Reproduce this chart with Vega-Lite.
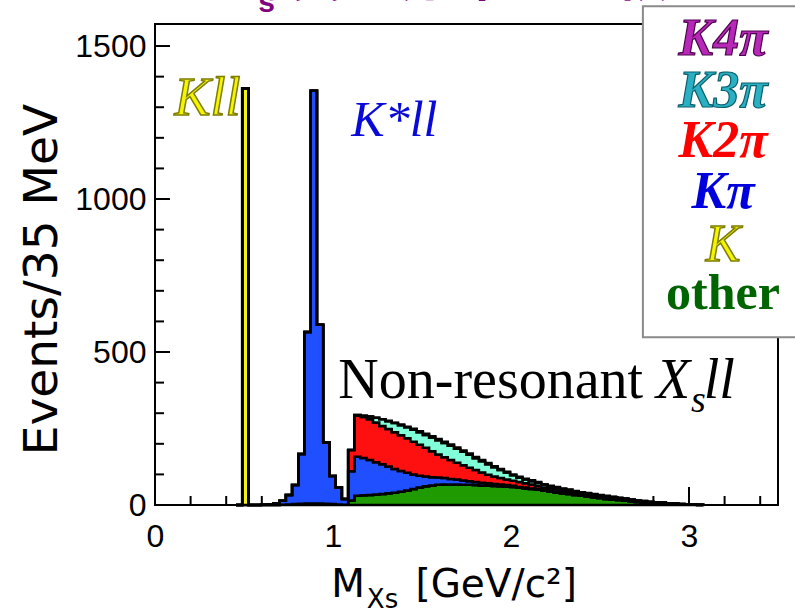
{
  "$schema": "https://vega.github.io/schema/vega-lite/v6.json",
  "width": 623,
  "height": 481,
  "autosize": {"type": "none"},
  "padding": {"left": 155, "top": 24, "right": 17, "bottom": 108},
  "background": "white",
  "config": {
    "view": {"stroke": "black", "strokeWidth": 2},
    "axis": {"grid": false, "domain": false, "ticks": false, "tickSize": 0, "labelFont": "Liberation Sans", "labelFontSize": 32, "labelColor": "black", "titleFont": "DejaVu Sans", "titleFontWeight": "normal", "titleColor": "black"}
  },
  "datasets": {
    "ranks": [
      {"comp": "other", "rank": 1},
      {"comp": "K", "rank": 2},
      {"comp": "Kpi", "rank": 3},
      {"comp": "K2pi", "rank": 4},
      {"comp": "K3pi", "rank": 5},
      {"comp": "K4pi", "rank": 6}
    ],
    "xmajor": [{"v": 0}, {"v": 1}, {"v": 2}, {"v": 3}],
    "xminor": [{"v": 0.2}, {"v": 0.4}, {"v": 0.6}, {"v": 0.8}, {"v": 1.2}, {"v": 1.4}, {"v": 1.6}, {"v": 1.8}, {"v": 2.2}, {"v": 2.4}, {"v": 2.6}, {"v": 2.8}, {"v": 3.2}, {"v": 3.4}],
    "ymajor": [{"v": 500}, {"v": 1000}, {"v": 1500}],
    "yminor": [{"v": 100}, {"v": 200}, {"v": 300}, {"v": 400}, {"v": 600}, {"v": 700}, {"v": 800}, {"v": 900}, {"v": 1100}, {"v": 1200}, {"v": 1300}, {"v": 1400}],
    "hist": [
      {"m": 0.455, "other": 0, "K": 0, "Kpi": 0, "K2pi": 0, "K3pi": 0, "K4pi": 0},
      {"m": 0.49, "other": 0, "K": 1362, "Kpi": 0, "K2pi": 0, "K3pi": 0, "K4pi": 0},
      {"m": 0.525, "other": 0, "K": 0, "Kpi": 0, "K2pi": 0, "K3pi": 0, "K4pi": 0},
      {"m": 0.56, "other": 0, "K": 0, "Kpi": 0, "K2pi": 0, "K3pi": 0, "K4pi": 0},
      {"m": 0.595, "other": 0, "K": 0, "Kpi": 1, "K2pi": 0, "K3pi": 0, "K4pi": 0},
      {"m": 0.63, "other": 0, "K": 0, "Kpi": 2, "K2pi": 0, "K3pi": 0, "K4pi": 0},
      {"m": 0.665, "other": 0, "K": 0, "Kpi": 5, "K2pi": 0, "K3pi": 0, "K4pi": 0},
      {"m": 0.7, "other": 1, "K": 0, "Kpi": 13, "K2pi": 0, "K3pi": 0, "K4pi": 0},
      {"m": 0.735, "other": 2, "K": 0, "Kpi": 31, "K2pi": 0, "K3pi": 0, "K4pi": 0},
      {"m": 0.77, "other": 3, "K": 0, "Kpi": 62, "K2pi": 0, "K3pi": 0, "K4pi": 0},
      {"m": 0.805, "other": 4, "K": 0, "Kpi": 163, "K2pi": 0, "K3pi": 0, "K4pi": 0},
      {"m": 0.84, "other": 5, "K": 0, "Kpi": 560, "K2pi": 0, "K3pi": 0, "K4pi": 0},
      {"m": 0.875, "other": 5, "K": 0, "Kpi": 1349, "K2pi": 0, "K3pi": 0, "K4pi": 0},
      {"m": 0.91, "other": 5, "K": 0, "Kpi": 584, "K2pi": 0, "K3pi": 0, "K4pi": 0},
      {"m": 0.945, "other": 4, "K": 0, "Kpi": 200, "K2pi": 0, "K3pi": 0, "K4pi": 0},
      {"m": 0.98, "other": 3, "K": 0, "Kpi": 92, "K2pi": 0, "K3pi": 0, "K4pi": 0},
      {"m": 1.015, "other": 2, "K": 0, "Kpi": 55, "K2pi": 0, "K3pi": 0, "K4pi": 0},
      {"m": 1.05, "other": 1, "K": 0, "Kpi": 19, "K2pi": 0, "K3pi": 0, "K4pi": 0},
      {"m": 1.085, "other": 15, "K": 0, "Kpi": 95, "K2pi": 70, "K3pi": 0, "K4pi": 0},
      {"m": 1.12, "other": 30, "K": 0, "Kpi": 128, "K2pi": 134, "K3pi": 2, "K4pi": 0},
      {"m": 1.155, "other": 32, "K": 0, "Kpi": 122, "K2pi": 134, "K3pi": 4, "K4pi": 0},
      {"m": 1.19, "other": 33, "K": 0, "Kpi": 114, "K2pi": 133, "K3pi": 9, "K4pi": 0},
      {"m": 1.225, "other": 34, "K": 0, "Kpi": 106, "K2pi": 130, "K3pi": 15, "K4pi": 0},
      {"m": 1.26, "other": 36, "K": 0, "Kpi": 97, "K2pi": 125, "K3pi": 22, "K4pi": 0},
      {"m": 1.295, "other": 38, "K": 0, "Kpi": 88, "K2pi": 122, "K3pi": 26, "K4pi": 1},
      {"m": 1.33, "other": 40, "K": 0, "Kpi": 78, "K2pi": 120, "K3pi": 30, "K4pi": 1},
      {"m": 1.365, "other": 43, "K": 0, "Kpi": 68, "K2pi": 117, "K3pi": 33, "K4pi": 2},
      {"m": 1.4, "other": 47, "K": 0, "Kpi": 58, "K2pi": 113, "K3pi": 36, "K4pi": 2},
      {"m": 1.435, "other": 52, "K": 0, "Kpi": 48, "K2pi": 107, "K3pi": 39, "K4pi": 3},
      {"m": 1.47, "other": 57, "K": 0, "Kpi": 39, "K2pi": 101, "K3pi": 41, "K4pi": 3},
      {"m": 1.505, "other": 61, "K": 0, "Kpi": 32, "K2pi": 94, "K3pi": 42, "K4pi": 4},
      {"m": 1.54, "other": 64, "K": 0, "Kpi": 27, "K2pi": 85, "K3pi": 45, "K4pi": 4},
      {"m": 1.575, "other": 66, "K": 0, "Kpi": 24, "K2pi": 75, "K3pi": 47, "K4pi": 4},
      {"m": 1.61, "other": 67, "K": 0, "Kpi": 21, "K2pi": 68, "K3pi": 47, "K4pi": 4},
      {"m": 1.645, "other": 67, "K": 0, "Kpi": 18, "K2pi": 62, "K3pi": 47, "K4pi": 4},
      {"m": 1.68, "other": 67, "K": 0, "Kpi": 16, "K2pi": 55, "K3pi": 46, "K4pi": 4},
      {"m": 1.715, "other": 66, "K": 0, "Kpi": 14, "K2pi": 50, "K3pi": 44, "K4pi": 4},
      {"m": 1.75, "other": 66, "K": 0, "Kpi": 12, "K2pi": 44, "K3pi": 42, "K4pi": 4},
      {"m": 1.785, "other": 65, "K": 0, "Kpi": 10, "K2pi": 39, "K3pi": 39, "K4pi": 4},
      {"m": 1.82, "other": 64, "K": 0, "Kpi": 9, "K2pi": 33, "K3pi": 37, "K4pi": 4},
      {"m": 1.855, "other": 63, "K": 0, "Kpi": 8, "K2pi": 28, "K3pi": 34, "K4pi": 4},
      {"m": 1.89, "other": 62, "K": 0, "Kpi": 7, "K2pi": 24, "K3pi": 30, "K4pi": 4},
      {"m": 1.925, "other": 61, "K": 0, "Kpi": 6, "K2pi": 21, "K3pi": 26, "K4pi": 4},
      {"m": 1.96, "other": 60, "K": 0, "Kpi": 5, "K2pi": 18, "K3pi": 23, "K4pi": 3},
      {"m": 1.995, "other": 59, "K": 0, "Kpi": 4, "K2pi": 16, "K3pi": 18, "K4pi": 3},
      {"m": 2.03, "other": 56, "K": 0, "Kpi": 3, "K2pi": 16, "K3pi": 14, "K4pi": 3},
      {"m": 2.065, "other": 54, "K": 0, "Kpi": 3, "K2pi": 14, "K3pi": 12, "K4pi": 3},
      {"m": 2.1, "other": 52, "K": 0, "Kpi": 2, "K2pi": 13, "K3pi": 11, "K4pi": 3},
      {"m": 2.135, "other": 50, "K": 0, "Kpi": 2, "K2pi": 10, "K3pi": 10, "K4pi": 3},
      {"m": 2.17, "other": 47, "K": 0, "Kpi": 1, "K2pi": 9, "K3pi": 9, "K4pi": 2},
      {"m": 2.205, "other": 44, "K": 0, "Kpi": 1, "K2pi": 8, "K3pi": 8, "K4pi": 2},
      {"m": 2.24, "other": 41, "K": 0, "Kpi": 1, "K2pi": 8, "K3pi": 7, "K4pi": 2},
      {"m": 2.275, "other": 38, "K": 0, "Kpi": 1, "K2pi": 7, "K3pi": 6, "K4pi": 2},
      {"m": 2.31, "other": 36, "K": 0, "Kpi": 0, "K2pi": 7, "K3pi": 6, "K4pi": 2},
      {"m": 2.345, "other": 33, "K": 0, "Kpi": 0, "K2pi": 6, "K3pi": 6, "K4pi": 1},
      {"m": 2.38, "other": 30, "K": 0, "Kpi": 0, "K2pi": 6, "K3pi": 5, "K4pi": 1},
      {"m": 2.415, "other": 27, "K": 0, "Kpi": 0, "K2pi": 6, "K3pi": 5, "K4pi": 1},
      {"m": 2.45, "other": 25, "K": 0, "Kpi": 0, "K2pi": 5, "K3pi": 5, "K4pi": 1},
      {"m": 2.485, "other": 23, "K": 0, "Kpi": 0, "K2pi": 5, "K3pi": 4, "K4pi": 1},
      {"m": 2.52, "other": 20, "K": 0, "Kpi": 0, "K2pi": 5, "K3pi": 4, "K4pi": 1},
      {"m": 2.555, "other": 18, "K": 0, "Kpi": 0, "K2pi": 4, "K3pi": 4, "K4pi": 1},
      {"m": 2.59, "other": 16, "K": 0, "Kpi": 0, "K2pi": 4, "K3pi": 3, "K4pi": 1},
      {"m": 2.625, "other": 14, "K": 0, "Kpi": 0, "K2pi": 4, "K3pi": 3, "K4pi": 0},
      {"m": 2.66, "other": 12, "K": 0, "Kpi": 0, "K2pi": 3, "K3pi": 3, "K4pi": 0},
      {"m": 2.695, "other": 10, "K": 0, "Kpi": 0, "K2pi": 3, "K3pi": 2, "K4pi": 0},
      {"m": 2.73, "other": 8, "K": 0, "Kpi": 0, "K2pi": 3, "K3pi": 2, "K4pi": 0},
      {"m": 2.765, "other": 7, "K": 0, "Kpi": 0, "K2pi": 2, "K3pi": 2, "K4pi": 0},
      {"m": 2.8, "other": 6, "K": 0, "Kpi": 0, "K2pi": 2, "K3pi": 1, "K4pi": 0},
      {"m": 2.835, "other": 5, "K": 0, "Kpi": 0, "K2pi": 2, "K3pi": 1, "K4pi": 0},
      {"m": 2.87, "other": 4, "K": 0, "Kpi": 0, "K2pi": 1, "K3pi": 1, "K4pi": 0},
      {"m": 2.905, "other": 3, "K": 0, "Kpi": 0, "K2pi": 1, "K3pi": 1, "K4pi": 0},
      {"m": 2.94, "other": 2, "K": 0, "Kpi": 0, "K2pi": 1, "K3pi": 0, "K4pi": 0},
      {"m": 2.975, "other": 1, "K": 0, "Kpi": 0, "K2pi": 1, "K3pi": 0, "K4pi": 0},
      {"m": 3.01, "other": 1, "K": 0, "Kpi": 0, "K2pi": 0, "K3pi": 0, "K4pi": 0},
      {"m": 3.045, "other": 0, "K": 0, "Kpi": 0, "K2pi": 1, "K3pi": 0, "K4pi": 0},
      {"m": 3.08, "other": 0, "K": 0, "Kpi": 0, "K2pi": 0, "K3pi": 0, "K4pi": 0}
    ]
  },
  "layer": [
    {
      "data": {"name": "xmajor"},
      "mark": {"type": "rule", "stroke": "black", "strokeWidth": 2},
      "encoding": {
        "x": {"field": "v", "type": "quantitative", "axis": {"title": null}},
        "y": {"datum": 0, "type": "quantitative"},
        "y2": {"datum": 59}
      }
    },
    {
      "data": {"name": "xminor"},
      "mark": {"type": "rule", "stroke": "black", "strokeWidth": 2},
      "encoding": {
        "x": {"field": "v", "type": "quantitative", "axis": {"title": null}},
        "y": {"datum": 0, "type": "quantitative"},
        "y2": {"datum": 29.4}
      }
    },
    {
      "data": {"name": "ymajor"},
      "mark": {"type": "rule", "stroke": "black", "strokeWidth": 2},
      "encoding": {
        "y": {"field": "v", "type": "quantitative", "axis": {"title": null}},
        "x": {"datum": 0, "type": "quantitative"},
        "x2": {"datum": 0.0844}
      }
    },
    {
      "data": {"name": "yminor"},
      "mark": {"type": "rule", "stroke": "black", "strokeWidth": 2},
      "encoding": {
        "y": {"field": "v", "type": "quantitative", "axis": {"title": null}},
        "x": {"datum": 0, "type": "quantitative"},
        "x2": {"datum": 0.0506}
      }
    },
    {
      "data": {"name": "hist"},
      "transform": [
        {"fold": ["other", "K", "Kpi", "K2pi", "K3pi", "K4pi"], "as": ["comp", "n"]},
        {"lookup": "comp", "from": {"data": {"name": "ranks"}, "key": "comp", "fields": ["rank"]}}
      ],
      "mark": {"type": "area", "interpolate": "step-after", "stroke": "black", "strokeWidth": 2.5, "strokeJoin": "miter", "fillOpacity": 1},
      "encoding": {
        "x": {
          "field": "m", "type": "quantitative",
          "scale": {"domain": [0, 3.5], "nice": false, "zero": false},
          "axis": {
            "title": null,
            "values": [0, 1, 2, 3],
            "format": "d",
            "labelPadding": 16,
            "labelOverlap": false,
            "labelFlush": false
          }
        },
        "y": {
          "field": "n", "type": "quantitative", "stack": "zero",
          "scale": {"domain": [0, 1572], "nice": false},
          "axis": {
            "title": null,
            "values": [0, 500, 1000, 1500],
            "format": "d",
            "labelPadding": 9,
            "labelOverlap": false,
            "labelFlush": false
          }
        },
        "color": {
          "field": "comp", "type": "nominal", "legend": null,
          "scale": {"domain": ["other", "K", "Kpi", "K2pi", "K3pi", "K4pi"], "range": ["#1f9a00", "#f2f21a", "#1f4fff", "#ff1010", "#80ffd8", "#9a3cff"]}
        },
        "order": {"field": "rank", "type": "quantitative"}
      }
    },
    {
      "data": {"values": [{}]},
      "mark": {"type": "text", "text": "Events/35 MeV", "font": "DejaVu Sans", "fontSize": 47, "angle": 270, "align": "center", "baseline": "alphabetic", "fill": "black"},
      "encoding": {"x": {"datum": -0.5515, "type": "quantitative"}, "y": {"datum": 737, "type": "quantitative"}}
    },
    {
      "data": {"values": [{}]},
      "mark": {"type": "text", "text": "X", "font": "Liberation Sans", "fontSize": 48, "fontWeight": "bold", "align": "left", "baseline": "alphabetic", "fill": "#800080"},
      "encoding": {"x": {"datum": 0.383, "type": "quantitative"}, "y": {"datum": 1650, "type": "quantitative"}}
    },
    {
      "data": {"values": [{}]},
      "mark": {"type": "text", "text": "s", "font": "Liberation Sans", "fontSize": 30, "fontWeight": "bold", "align": "left", "baseline": "alphabetic", "fill": "#800080"},
      "encoding": {"x": {"datum": 0.58, "type": "quantitative"}, "y": {"datum": 1610, "type": "quantitative"}}
    },
    {
      "data": {"values": [{}]},
      "mark": {"type": "text", "text": "質量分布と比較", "font": "Noto Sans CJK JP", "fontSize": 54, "fontWeight": "bold", "align": "left", "baseline": "alphabetic", "fill": "#800080"},
      "encoding": {"x": {"datum": 0.76, "type": "quantitative"}, "y": {"datum": 1664, "type": "quantitative"}}
    },
    {
      "data": {"values": [{}]},
      "mark": {"type": "rect", "fill": "white", "stroke": "#8a8a8a", "strokeWidth": 2},
      "encoding": {
        "x": {"datum": 2.741, "type": "quantitative"},
        "x2": {"datum": 3.8},
        "y": {"datum": 548, "type": "quantitative"},
        "y2": {"datum": 1630}
      }
    },
    {
      "data": {"values": [{}]},
      "mark": {"type": "text", "text": "K4π", "font": "Liberation Serif", "fontSize": 52, "fontStyle": "italic", "fontWeight": "bold", "align": "center", "baseline": "alphabetic", "fill": "#b828b8", "stroke": "#4a004a", "strokeWidth": 1.2},
      "encoding": {"x": {"datum": 3.191, "type": "quantitative"}, "y": {"datum": 1470, "type": "quantitative"}}
    },
    {
      "data": {"values": [{}]},
      "mark": {"type": "text", "text": "K3π", "font": "Liberation Serif", "fontSize": 52, "fontStyle": "italic", "fontWeight": "bold", "align": "center", "baseline": "alphabetic", "fill": "#2ab0c2", "stroke": "#0a5e6c", "strokeWidth": 1.2},
      "encoding": {"x": {"datum": 3.191, "type": "quantitative"}, "y": {"datum": 1300, "type": "quantitative"}}
    },
    {
      "data": {"values": [{}]},
      "mark": {"type": "text", "text": "K2π", "font": "Liberation Serif", "fontSize": 52, "fontStyle": "italic", "fontWeight": "bold", "align": "center", "baseline": "alphabetic", "fill": "#ff0000"},
      "encoding": {"x": {"datum": 3.191, "type": "quantitative"}, "y": {"datum": 1136, "type": "quantitative"}}
    },
    {
      "data": {"values": [{}]},
      "mark": {"type": "text", "text": "Kπ", "font": "Liberation Serif", "fontSize": 52, "fontStyle": "italic", "fontWeight": "bold", "align": "center", "baseline": "alphabetic", "fill": "#0000dd"},
      "encoding": {"x": {"datum": 3.191, "type": "quantitative"}, "y": {"datum": 970, "type": "quantitative"}}
    },
    {
      "data": {"values": [{}]},
      "mark": {"type": "text", "text": "K", "font": "Liberation Serif", "fontSize": 52, "fontStyle": "italic", "fontWeight": "normal", "align": "center", "baseline": "alphabetic", "fill": "#f5f500", "stroke": "#7d7d00", "strokeWidth": 1.5},
      "encoding": {"x": {"datum": 3.191, "type": "quantitative"}, "y": {"datum": 799, "type": "quantitative"}}
    },
    {
      "data": {"values": [{}]},
      "mark": {"type": "text", "text": "other", "font": "Liberation Serif", "fontSize": 50, "fontStyle": "normal", "fontWeight": "bold", "align": "center", "baseline": "alphabetic", "fill": "#006400"},
      "encoding": {"x": {"datum": 3.191, "type": "quantitative"}, "y": {"datum": 642, "type": "quantitative"}}
    },
    {
      "data": {"values": [{}]},
      "mark": {"type": "text", "text": "Kll", "font": "Liberation Serif", "fontSize": 54, "fontStyle": "italic", "align": "left", "baseline": "alphabetic", "fill": "#f5f500", "stroke": "#7d7d00", "strokeWidth": 1.5},
      "encoding": {"x": {"datum": 0.11, "type": "quantitative"}, "y": {"datum": 1273, "type": "quantitative"}}
    },
    {
      "data": {"values": [{}]},
      "mark": {"type": "text", "text": "K*ll", "font": "Liberation Serif", "fontSize": 50, "fontStyle": "italic", "align": "left", "baseline": "alphabetic", "fill": "#0a0ad8"},
      "encoding": {"x": {"datum": 1.103, "type": "quantitative"}, "y": {"datum": 1205, "type": "quantitative"}}
    },
    {
      "data": {"values": [{}]},
      "mark": {"type": "text", "text": "Non-resonant", "font": "Liberation Serif", "fontSize": 56, "align": "left", "baseline": "alphabetic", "fill": "black"},
      "encoding": {"x": {"datum": 1.03, "type": "quantitative"}, "y": {"datum": 349, "type": "quantitative"}}
    },
    {
      "data": {"values": [{}]},
      "mark": {"type": "text", "text": "X", "font": "Liberation Serif", "fontSize": 56, "fontStyle": "italic", "align": "left", "baseline": "alphabetic", "fill": "black"},
      "encoding": {"x": {"datum": 2.814, "type": "quantitative"}, "y": {"datum": 349, "type": "quantitative"}}
    },
    {
      "data": {"values": [{}]},
      "mark": {"type": "text", "text": "s", "font": "Liberation Serif", "fontSize": 38, "fontStyle": "italic", "align": "left", "baseline": "alphabetic", "fill": "black"},
      "encoding": {"x": {"datum": 3.011, "type": "quantitative"}, "y": {"datum": 303, "type": "quantitative"}}
    },
    {
      "data": {"values": [{}]},
      "mark": {"type": "text", "text": "ll", "font": "Liberation Serif", "fontSize": 56, "fontStyle": "italic", "align": "left", "baseline": "alphabetic", "fill": "black"},
      "encoding": {"x": {"datum": 3.083, "type": "quantitative"}, "y": {"datum": 349, "type": "quantitative"}}
    },
    {
      "data": {"values": [{}]},
      "mark": {"type": "text", "text": "M", "font": "DejaVu Sans", "fontSize": 39, "align": "left", "baseline": "alphabetic", "fill": "black"},
      "encoding": {"x": {"datum": 0.99, "type": "quantitative"}, "y": {"datum": -302, "type": "quantitative"}}
    },
    {
      "data": {"values": [{}]},
      "mark": {"type": "text", "text": "Xs", "font": "DejaVu Sans", "fontSize": 26, "align": "left", "baseline": "alphabetic", "fill": "black"},
      "encoding": {"x": {"datum": 1.19, "type": "quantitative"}, "y": {"datum": -336, "type": "quantitative"}}
    },
    {
      "data": {"values": [{}]},
      "mark": {"type": "text", "text": "[GeV/c²]", "font": "DejaVu Sans", "fontSize": 39, "align": "left", "baseline": "alphabetic", "fill": "black"},
      "encoding": {"x": {"datum": 1.463, "type": "quantitative"}, "y": {"datum": -302, "type": "quantitative"}}
    }
  ]
}
